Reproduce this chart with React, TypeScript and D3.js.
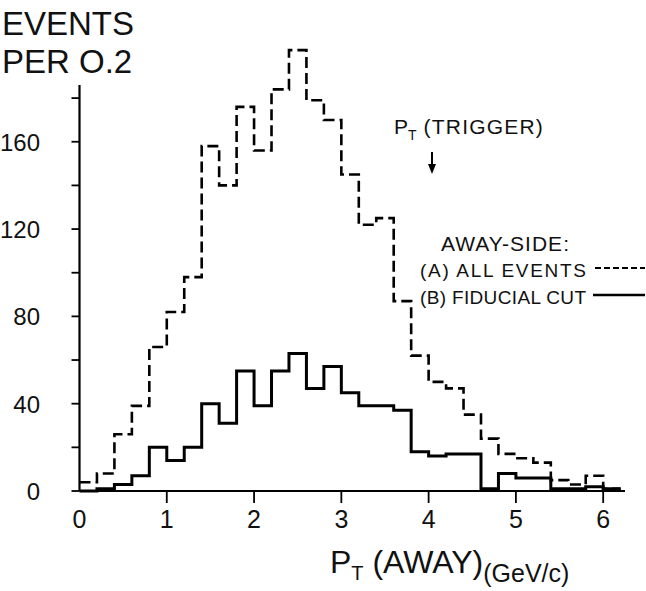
import React from "react";
import * as d3 from "d3";

const binStarts = [0, 0.2, 0.4, 0.6, 0.8, 1.0, 1.2, 1.4, 1.6, 1.8, 2.0, 2.2, 2.4, 2.6, 2.8, 3.0, 3.2, 3.4, 3.6, 3.8, 4.0, 4.2, 4.4, 4.6, 4.8, 5.0, 5.2, 5.4, 5.6, 5.8, 6.0];
const binWidth = 0.2;
const allEvents = [4, 8, 26, 39, 66, 82, 98, 158, 140, 176, 156, 184, 202, 179, 170, 145, 122, 125, 87, 62, 50, 47, 35, 24, 17, 15, 13, 5, 3, 7, 1];
const fiducialCut = [0, 1, 3, 7, 20, 14, 20, 40, 31, 55, 39, 55, 63, 47, 57, 45, 39, 39, 37, 18, 16, 17, 17, 1, 8, 6, 6, 1, 1, 2, 1];
const xTicks = [0, 1, 2, 3, 4, 5, 6];
const yTicks = [0, 20, 40, 60, 80, 100, 120, 140, 160, 180];
const yLabels = [0, 40, 80, 120, 160];

const FONT = "'Liberation Sans', Arial, sans-serif";

export default function App() {
  const x = d3.scaleLinear().domain([0, 6.25]).range([79.5, 625]);
  const y = d3.scaleLinear().domain([0, 186]).range([491, 85]);

  const stepLine = d3
    .line<[number, number]>()
    .x((d) => x(d[0]))
    .y((d) => y(d[1]))
    .curve(d3.curveStepAfter);

  const pts = (vals: number[]): [number, number][] => {
    const p: [number, number][] = binStarts.map((b, i) => [b, vals[i]]);
    const last = binStarts[binStarts.length - 1] + binWidth;
    p.push([last, vals[vals.length - 1]]);
    return p;
  };

  const dashedPath = stepLine(pts(allEvents)) as string;
  const solidPath = stepLine(pts(fiducialCut)) as string;

  return (
    <svg
      width={646}
      height={591}
      style={{ position: "absolute", left: 0, top: 0, background: "#fff" }}
      fontFamily={FONT}
    >
      <rect x={0} y={0} width={646} height={591} fill="#fff" />
      {/* y title */}
      <text x={2} y={35} fontSize={33} fill="#111">EVENTS</text>
      <text x={2} y={73} fontSize={33} fill="#111">PER O.2</text>

      {/* y axis */}
      <line x1={x(0)} x2={x(0)} y1={y(0)} y2={y(186)} stroke="#000" strokeWidth={2.2} />
      {yTicks.map((t) => (
        <line key={t} x1={x(0) - 8} x2={x(0)} y1={y(t)} y2={y(t)} stroke="#000" strokeWidth={1.8} />
      ))}
      {yLabels.map((t) => (
        <text key={t} x={40} y={y(t) + 9} fontSize={24} textAnchor="end" fill="#111">
          {t}
        </text>
      ))}

      {/* x axis */}
      <line x1={x(0)} x2={x(6.25)} y1={y(0)} y2={y(0)} stroke="#000" strokeWidth={2.2} />
      {xTicks.map((t) => (
        <g key={t}>
          {t > 0 && <line x1={x(t)} x2={x(t)} y1={y(0)} y2={y(0) + 12} stroke="#000" strokeWidth={1.8} />}
          <text x={x(t)} y={528} fontSize={25} textAnchor="middle" fill="#111">
            {t}
          </text>
        </g>
      ))}

      {/* histograms */}
      <path d={dashedPath} fill="none" stroke="#000" strokeWidth={2.6} strokeDasharray="11 5" />
      <path d={solidPath} fill="none" stroke="#000" strokeWidth={3} />

      {/* x title */}
      <text x={330} y={573} fontSize={32} fill="#111">
        P
        <tspan fontSize={20} dy={7}>T</tspan>
        <tspan dy={-7} fontSize={32}> (AWAY)</tspan>
        <tspan fontSize={25} dy={9}>(GeV/c)</tspan>
      </text>

      {/* trigger annotation */}
      <text x={394} y={134} fontSize={21} fill="#111">
        P
        <tspan fontSize={14} dy={6}>T</tspan>
        <tspan dy={-6} fontSize={21} letterSpacing={1.2}> (TRIGGER)</tspan>
      </text>
      <line x1={432} x2={432} y1={152} y2={168} stroke="#000" strokeWidth={2} />
      <path d="M428,164 L436,164 L432,174 Z" fill="#000" />

      {/* legend */}
      <text x={441} y={251} fontSize={21} fill="#111" textLength={128}>AWAY-SIDE:</text>
      <text x={420} y={277} fontSize={19} fill="#111" textLength={166}>(A) ALL EVENTS</text>
      <line x1={595} x2={645} y1={268} y2={268} stroke="#000" strokeWidth={2} strokeDasharray="6 3" />
      <text x={420} y={304} fontSize={19} fill="#111" textLength={166}>(B) FIDUCIAL CUT</text>
      <line x1={593} x2={645} y1={295} y2={295} stroke="#000" strokeWidth={2.6} />
    </svg>
  );
}
